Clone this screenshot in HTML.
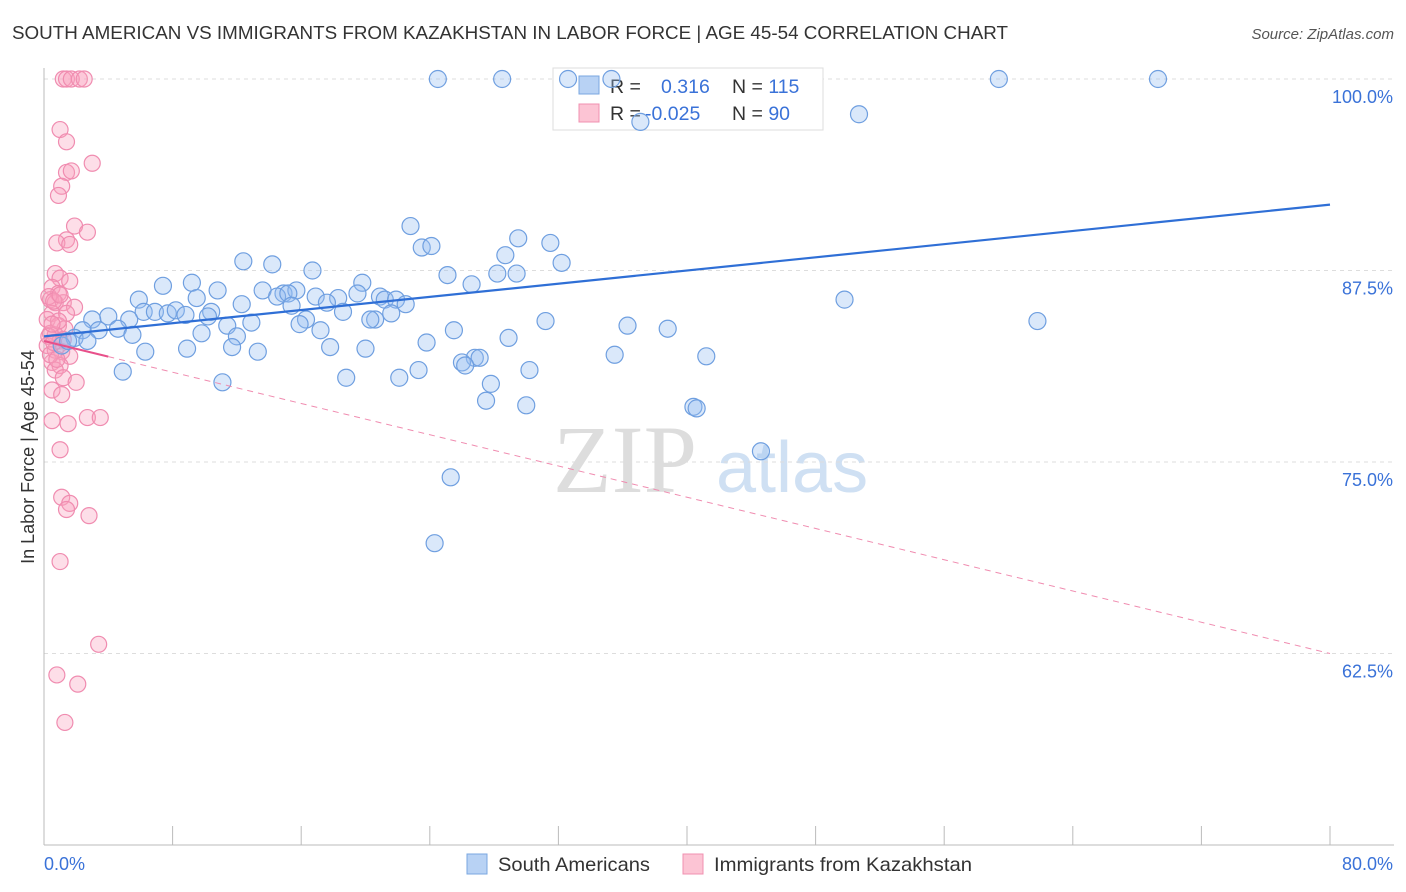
<!DOCTYPE html>
<html><head><meta charset="utf-8">
<style>
body{margin:0;background:#fff;font-family:"Liberation Sans",sans-serif;}
#wrap{position:relative;width:1406px;height:892px;overflow:hidden;}
</style></head>
<body>
<div id="wrap">
<svg id="chart" width="1406" height="892" xmlns="http://www.w3.org/2000/svg">
<text x="12" y="39" font-size="18" fill="#333" textLength="996" lengthAdjust="spacingAndGlyphs">SOUTH AMERICAN VS IMMIGRANTS FROM KAZAKHSTAN IN LABOR FORCE | AGE 45-54 CORRELATION CHART</text>
<text x="1394" y="39" font-size="15" fill="#555" font-style="italic" text-anchor="end">Source: ZipAtlas.com</text>
<g>
<text x="553" y="492" font-size="96" fill="#ddd" font-family="Liberation Serif">ZIP</text>
<text x="716" y="492" font-size="72" fill="#cfe0f3">atlas</text>
</g>
<g id="grid"></g>
<g id="axes"></g>
<g>
<rect x="553" y="68" width="270" height="62" fill="#fff" stroke="#ddd"/>
<rect x="579" y="76" width="20" height="18" fill="#b8d2f4" stroke="#7aa7e0"/>
<rect x="579" y="104" width="20" height="18" fill="#fcc4d4" stroke="#f090b0"/>
<text x="610" y="93" font-size="19.5" fill="#333">R = <tspan fill="#3a72d8" x="661">0.316</tspan><tspan x="732" fill="#333">N = </tspan><tspan fill="#3a72d8">115</tspan></text>
<text x="610" y="120" font-size="19.5" fill="#333">R = <tspan fill="#3a72d8" x="645">-0.025</tspan><tspan x="732" fill="#333">N = </tspan><tspan fill="#3a72d8">90</tspan></text>
</g>
<g id="pinkPts"></g>
<g id="bluePts"></g>
<g id="trends"></g>
<text transform="translate(34,457) rotate(-90)" font-size="18" fill="#333" text-anchor="middle">In Labor Force | Age 45-54</text>
<g>
<rect x="467" y="854" width="20" height="20" fill="#b8d2f4" stroke="#7aa7e0"/>
<text x="498" y="871" font-size="19.5" fill="#333" textLength="152" lengthAdjust="spacingAndGlyphs">South Americans</text>
<rect x="683" y="854" width="20" height="20" fill="#fcc4d4" stroke="#f090b0"/>
<text x="714" y="871" font-size="19.5" fill="#333" textLength="258" lengthAdjust="spacingAndGlyphs">Immigrants from Kazakhstan</text>
</g>
</svg>
</div>
<script>
const blueX=[24.5,28.5,32.6,35.3,59.4,69.3,37.1,50.7,22.8,23.5,24.1,29.5,31.5,28.7,32.2,12.4,14.2,16.7,25.1,28.2,29.4,26.6,19.8,7.4,9.2,10.8,13.6,14.9,15.7,14.5,15.2,16.9,18.3,19.5,20.9,21.2,21.9,22.5,17.6,12.3,5.9,9.5,15.4,49.8,6.2,6.9,7.7,8.2,8.8,10.4,10.2,18.6,21.6,20.6,20.3,4.0,3.0,5.3,12.9,16.3,11.4,15.9,17.2,3.4,4.6,2.4,5.5,9.8,12.0,25.5,36.3,38.8,61.8,31.2,28.9,1.9,1.1,1.5,2.7,11.7,17.8,8.9,6.3,13.3,20.0,23.8,35.5,41.2,26.8,27.1,26.0,26.2,23.3,4.9,30.2,18.8,22.1,11.1,27.8,27.5,30.0,40.4,40.6,44.6,25.3,24.3];
const blueY=[100,100,100,100,100,100,97.2,97.7,90.4,89.0,89.1,89.6,89.3,88.5,88.0,88.1,87.9,87.5,87.2,87.3,87.3,86.6,86.7,86.5,86.7,86.2,86.2,86.0,86.2,85.8,86.0,85.8,85.7,86.0,85.8,85.6,85.6,85.3,85.4,85.3,85.6,85.7,85.2,85.6,84.8,84.8,84.7,84.9,84.6,84.8,84.5,84.8,84.7,84.3,84.3,84.5,84.3,84.3,84.1,84.3,83.9,84.0,83.6,83.6,83.7,83.6,83.3,83.4,83.2,83.6,83.9,83.7,84.2,84.2,83.1,83.1,82.6,82.9,82.9,82.5,82.5,82.4,82.2,82.2,82.4,82.8,82.0,81.9,81.8,81.8,81.5,81.3,81.0,80.9,81.0,80.5,80.5,80.2,80.1,79.0,78.7,78.6,78.5,75.7,74.0,69.7];
const pinkX=[1.2,1.4,1.7,2.2,2.5,1.0,1.4,3.0,1.4,1.7,1.1,0.9,1.9,2.7,1.4,0.8,1.6,0.7,1.0,1.6,0.5,0.9,0.4,0.7,1.2,1.9,0.5,1.4,0.2,0.9,1.3,0.4,0.7,1.0,0.2,0.7,1.1,1.6,0.5,1.0,0.7,1.2,2.0,0.5,1.1,2.7,3.5,0.5,1.5,1.0,1.1,1.6,1.4,2.8,1.0,3.4,0.8,2.1,1.3,0.3,0.6,0.9,1.2,0.4,0.8,0.3,0.6,1.0,0.5];
const pinkY=[100,100,100,100,100,96.7,95.9,94.5,93.9,94.0,93.0,92.4,90.4,90.0,89.5,89.3,89.2,87.3,87.0,86.8,86.4,86.0,85.6,85.4,85.4,85.1,84.7,84.7,84.3,83.9,83.7,83.4,83.3,82.9,82.6,82.3,82.2,81.9,81.5,81.3,81.0,80.5,80.2,79.7,79.4,77.9,77.9,77.7,77.5,75.8,72.7,72.3,71.9,71.5,68.5,63.1,61.1,60.5,58.0,85.8,85.5,84.2,83.0,82.0,81.7,83.2,82.8,85.9,84.0];
const yTicks=[100,87.5,75,62.5];
const yTickLabels=["100.0%","87.5%","75.0%","62.5%"];
const xTickLabels=["0.0%","80.0%"];
const blueTrend=[[0,83.2],[80,91.8]];
const pinkTrend=[[0,82.9],[80,62.5]];
const NS="http://www.w3.org/2000/svg";
const X0=44,X1=1330,Y0=79,PX12=191.5;
function sx(v){return X0+(v/80)*(X1-X0);}
function sy(v){return Y0+(100-v)/12.5*PX12;}
function mk(tag,attrs,parent){const e=document.createElementNS(NS,tag);for(const k in attrs)e.setAttribute(k,attrs[k]);parent.appendChild(e);return e;}
const grid=document.getElementById('grid');
yTicks.forEach((t,i)=>{
  const l=mk('line',{x1:X0,x2:1394,y1:sy(t),y2:sy(t),stroke:'#ddd','stroke-dasharray':'4,4'},grid);
  
  
  const tx=mk('text',{x:1393,y:sy(t)+24,'font-size':18,fill:'#3a72d8','text-anchor':'end'},grid);
  tx.textContent=yTickLabels[i];
  
  
});
const axes=document.getElementById('axes');
const ya=mk('line',{x1:X0,x2:X0,y1:68,y2:845,stroke:'#bbb'},axes);


const xa=mk('line',{x1:X0,x2:1394,y1:845,y2:845,stroke:'#bbb'},axes);


for(let i=1;i<=10;i++){
  const t=mk('line',{x1:sx(i*8),x2:sx(i*8),y1:826,y2:845,stroke:'#bbb'},axes);
  
  
}
const xl0=mk('text',{x:44,y:870,'font-size':18,fill:'#3a72d8'},axes);
xl0.textContent=xTickLabels[0];


const xl1=mk('text',{x:1393,y:870,'font-size':18,fill:'#3a72d8','text-anchor':'end'},axes);
xl1.textContent=xTickLabels[1];


const pg=document.getElementById('pinkPts');
pinkX.forEach((v,i)=>{
  const c=mk('circle',{cx:sx(v),cy:sy(pinkY[i]),r:8,fill:'rgba(248,160,190,0.35)',stroke:'#f08cb0','stroke-width':1.2},pg);
  
  
});
const bg=document.getElementById('bluePts');
blueX.forEach((v,i)=>{
  const c=mk('circle',{cx:sx(v),cy:sy(blueY[i]),r:8.5,fill:'rgba(150,190,240,0.35)',stroke:'#6f9fe0','stroke-width':1.2},bg);
  
  
});
const tg=document.getElementById('trends');
const bt=mk('line',{x1:sx(blueTrend[0][0]),y1:sy(blueTrend[0][1]),x2:sx(blueTrend[1][0]),y2:sy(blueTrend[1][1]),stroke:'#2f6fd6','stroke-width':2.2},tg);


const slope=(pinkTrend[1][1]-pinkTrend[0][1])/(pinkTrend[1][0]-pinkTrend[0][0]);
const pSolid=mk('line',{x1:sx(0),y1:sy(pinkTrend[0][1]),x2:sx(4),y2:sy(pinkTrend[0][1]+slope*4),stroke:'#e8508a','stroke-width':2},tg);


const pd=mk('line',{x1:sx(4),y1:sy(pinkTrend[0][1]+slope*4),x2:sx(pinkTrend[1][0]),y2:sy(pinkTrend[1][1]),stroke:'#f08cb0','stroke-width':1,'stroke-dasharray':'6,5'},tg);


</script>
</body></html>
